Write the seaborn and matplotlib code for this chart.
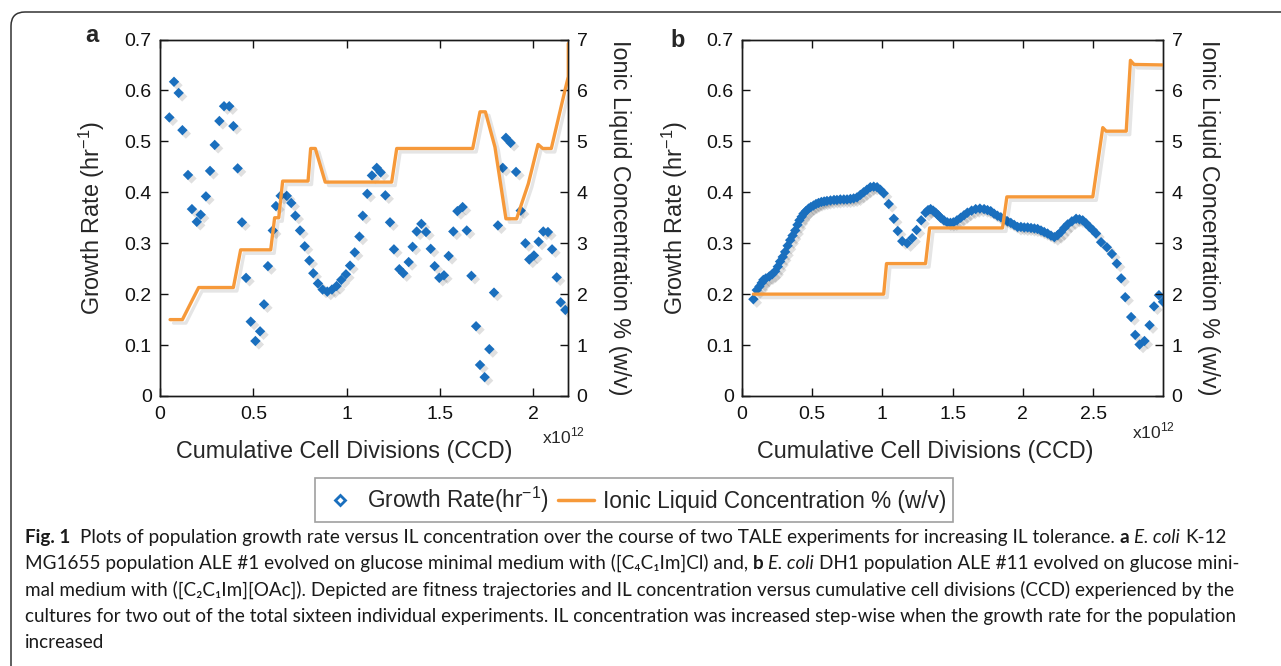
import matplotlib
matplotlib.use("Agg")
import matplotlib.pyplot as plt
import matplotlib.patheffects as pe
import seaborn as sns
from matplotlib.lines import Line2D
from matplotlib.patches import FancyBboxPatch
from matplotlib.transforms import IdentityTransform

# panel a: E. coli K-12 MG1655, ALE #1
a_ccd = [0.05, 0.075, 0.10, 0.12, 0.15, 0.171, 0.197, 0.218, 0.246, 0.268,
         0.293, 0.318, 0.343, 0.371, 0.393, 0.416, 0.439, 0.461, 0.486, 0.511,
         0.536, 0.557, 0.578, 0.604, 0.621, 0.646, 0.679, 0.703, 0.725, 0.75,
         0.775, 0.80, 0.821, 0.846, 0.871, 0.896, 0.921, 0.946, 0.971, 0.996,
         1.018, 1.043, 1.068, 1.086, 1.11, 1.135, 1.161, 1.182, 1.207, 1.232,
         1.253, 1.282, 1.303, 1.332, 1.353, 1.375, 1.40, 1.425, 1.45, 1.471,
         1.496, 1.521, 1.546, 1.571, 1.593, 1.621, 1.643, 1.668, 1.693, 1.714,
         1.739, 1.764, 1.789, 1.81, 1.836, 1.853, 1.878, 1.907, 1.932, 1.957,
         1.978, 2.003, 2.028, 2.053, 2.078, 2.10, 2.125, 2.146, 2.171]
a_growth = [0.547, 0.617, 0.595, 0.522, 0.434, 0.367, 0.342, 0.356, 0.392, 0.442,
            0.493, 0.54, 0.569, 0.569, 0.530, 0.447, 0.341, 0.232, 0.146, 0.108,
            0.127, 0.180, 0.255, 0.325, 0.373, 0.393, 0.393, 0.379, 0.354, 0.325,
            0.294, 0.266, 0.241, 0.221, 0.209, 0.205, 0.209, 0.216, 0.228, 0.239,
            0.256, 0.282, 0.313, 0.354, 0.397, 0.433, 0.448, 0.439, 0.394, 0.341,
            0.288, 0.249, 0.241, 0.263, 0.293, 0.323, 0.338, 0.322, 0.289, 0.255,
            0.232, 0.237, 0.275, 0.323, 0.363, 0.371, 0.325, 0.236, 0.137, 0.061,
            0.037, 0.092, 0.203, 0.335, 0.448, 0.507, 0.497, 0.440, 0.364, 0.30,
            0.268, 0.276, 0.303, 0.323, 0.322, 0.288, 0.233, 0.184, 0.169]
a_il_ccd = [0.054, 0.12, 0.207, 0.393, 0.432, 0.593, 0.614, 0.636, 0.657, 0.793,
            0.807, 0.832, 0.885, 1.241, 1.268, 1.675, 1.714, 1.743, 1.794, 1.853,
            1.91, 1.973, 2.025, 2.05, 2.096, 2.169, 2.187, 2.187]
a_il = [1.5, 1.5, 2.13, 2.13, 2.87, 2.87, 3.5, 3.5, 4.22, 4.22,
        4.86, 4.86, 4.2, 4.2, 4.86, 4.86, 5.58, 5.58, 4.89, 3.48,
        3.48, 4.17, 4.94, 4.86, 4.86, 6.0, 6.27, 6.92]

# panel b: E. coli DH1, ALE #11
b_ccd = [0.081, 0.105, 0.124, 0.14, 0.152, 0.17, 0.195, 0.215, 0.236, 0.255,
         0.271, 0.29, 0.307, 0.325, 0.343, 0.36, 0.379, 0.395, 0.409, 0.425,
         0.438, 0.455, 0.474, 0.49, 0.509, 0.527, 0.545, 0.565, 0.585, 0.605,
         0.63, 0.655, 0.676, 0.70, 0.725, 0.748, 0.772, 0.795, 0.819, 0.843,
         0.866, 0.89, 0.914, 0.938, 0.962, 0.985, 1.009, 1.045, 1.081, 1.109,
         1.141, 1.176, 1.212, 1.243, 1.276, 1.307, 1.325, 1.343, 1.361, 1.379,
         1.397, 1.414, 1.438, 1.462, 1.484, 1.505, 1.531, 1.557, 1.581, 1.605,
         1.635, 1.664, 1.694, 1.724, 1.748, 1.771, 1.795, 1.819, 1.843, 1.867,
         1.89, 1.914, 1.938, 1.962, 1.986, 2.01, 2.034, 2.058, 2.082, 2.105,
         2.129, 2.152, 2.176, 2.2, 2.224, 2.248, 2.271, 2.295, 2.319, 2.349,
         2.379, 2.403, 2.426, 2.45, 2.474, 2.497, 2.521, 2.557, 2.598, 2.634,
         2.669, 2.70, 2.729, 2.771, 2.80, 2.831, 2.866, 2.902, 2.934, 2.969,
         2.998]
b_growth = [0.190, 0.208, 0.215, 0.222, 0.228, 0.231, 0.235, 0.239, 0.245, 0.254,
            0.264, 0.273, 0.283, 0.295, 0.306, 0.315, 0.325, 0.336, 0.345, 0.352,
            0.358, 0.363, 0.368, 0.371, 0.374, 0.377, 0.379, 0.381, 0.382, 0.383,
            0.384, 0.385, 0.385, 0.386, 0.386, 0.386, 0.387, 0.388, 0.390, 0.395,
            0.400, 0.405, 0.410, 0.411, 0.410, 0.405, 0.398, 0.377, 0.348, 0.324,
            0.304, 0.300, 0.310, 0.326, 0.345, 0.360, 0.365, 0.367, 0.364, 0.360,
            0.355, 0.350, 0.345, 0.341, 0.340, 0.341, 0.345, 0.350, 0.355, 0.360,
            0.364, 0.367, 0.368, 0.367, 0.365, 0.363, 0.358, 0.354, 0.351, 0.347,
            0.343, 0.340, 0.336, 0.332, 0.332, 0.331, 0.331, 0.330, 0.329, 0.328,
            0.325, 0.322, 0.319, 0.315, 0.312, 0.316, 0.322, 0.330, 0.337, 0.343,
            0.348, 0.347, 0.345, 0.339, 0.332, 0.326, 0.319, 0.302, 0.292, 0.279,
            0.260, 0.231, 0.194, 0.155, 0.120, 0.101, 0.108, 0.139, 0.176, 0.198,
            0.185]
b_il_ccd = [0.081, 1.009, 1.029, 1.307, 1.336, 1.855, 1.886, 2.498, 2.569, 2.593,
            2.736, 2.766, 2.791, 3.0]
b_il = [2.0, 2.0, 2.6, 2.6, 3.3, 3.3, 3.91, 3.91, 5.27, 5.2,
        5.2, 6.59, 6.51, 6.5]

growth_ticks = [0, 0.1, 0.2, 0.3, 0.4, 0.5, 0.6, 0.7]
il_ticks = [0, 1, 2, 3, 4, 5, 6, 7]
a_xticks = [0, 0.5, 1, 1.5, 2]
b_xticks = [0, 0.5, 1, 1.5, 2, 2.5]

BLUE = "#1a6fbe"
ORANGE = "#f6993a"
CAP_FONT = ["Lato", "DejaVu Sans"]

sns.set_style("ticks")
plt.rcParams["font.family"] = ["Liberation Sans", "DejaVu Sans"]
plt.rcParams["axes.edgecolor"] = "#1a1a1a"
plt.rcParams["axes.linewidth"] = 1.0

W, H = 1281, 666
fig = plt.figure(figsize=(W / 100, H / 100), dpi=100)


def add_ax(left, top, right, bottom):
    return fig.add_axes([left / W, 1 - bottom / H, (right - left) / W, (bottom - top) / H])


def panel(ax, ccd, growth, il_ccd, il, xmax, xticks):
    sns.scatterplot(x=ccd, y=growth, ax=ax, marker="D", s=28, color=BLUE,
                    linewidth=0, legend=False, zorder=3)
    ax.collections[0].set_path_effects(
        [pe.SimplePatchShadow(offset=(2.5, -2.5), shadow_rgbFace="k", alpha=0.12), pe.Normal()])
    ax.set_xlim(0, xmax)
    ax.set_ylim(0, 0.7)
    ax.set_xticks(xticks)
    ax.set_xticklabels([f"{v:g}" for v in xticks])
    ax.set_yticks(growth_ticks)
    ax.set_yticklabels([f"{v:g}" for v in growth_ticks])
    ax.tick_params(direction="in", top=True, right=False, length=6, width=1,
                   labelsize=14, colors="#111")
    ax.tick_params(axis="x", pad=7)
    ax.tick_params(axis="y", pad=6)
    ax.set_xlabel("Cumulative Cell Divisions (CCD)", fontsize=16.8)
    ax.set_ylabel(r"Growth Rate (hr$^{\mathregular{-1}}$)", fontsize=16.8)

    ax2 = ax.twinx()
    sns.lineplot(x=il_ccd, y=il, ax=ax2, sort=False, estimator=None,
                 color=ORANGE, lw=2.4)
    ax2.lines[0].set_path_effects(
        [pe.SimpleLineShadow(offset=(2.5, -2.5), alpha=0.1), pe.Normal()])
    ax2.set_ylim(0, 7)
    ax2.set_yticks(il_ticks)
    ax2.tick_params(direction="in", length=6, width=1, labelsize=14, pad=6, colors="#111")
    ax2.set_ylabel("Ionic Liquid Concentration % (w/v)", fontsize=16.8,
                   rotation=270, va="bottom")
    return ax2


ax_a = add_ax(160, 39.5, 568.3, 396)
ax_b = add_ax(742, 39.5, 1163.3, 396)
ax2_a = panel(ax_a, a_ccd, a_growth, a_il_ccd, a_il, 2.187, a_xticks)
ax2_b = panel(ax_b, b_ccd, b_growth, b_il_ccd, b_il, 3.0, b_xticks)

ax_a.xaxis.set_label_coords(0.451, -0.123)
ax_b.xaxis.set_label_coords(0.436, -0.123)
ax_a.yaxis.set_label_coords(-0.130, 0.5)
ax_b.yaxis.set_label_coords(-0.123, 0.5)
ax2_a.yaxis.set_label_coords(1.097, 0.5)
ax2_b.yaxis.set_label_coords(1.080, 0.5)

ax_a.text(1.041, -0.132, r"x10$^{\mathregular{12}}$", transform=ax_a.transAxes, ha="right",
          va="baseline", fontsize=12.5)
ax_b.text(1.028, -0.118, r"x10$^{\mathregular{12}}$", transform=ax_b.transAxes, ha="right",
          va="baseline", fontsize=12.5)

fig.text(85 / W, 1 - 42 / H, "a", fontsize=17, weight="bold", va="baseline")
fig.text(670 / W, 1 - 47 / H, "b", fontsize=17, weight="bold", va="baseline")

handles = [Line2D([], [], marker="D", ls="none", mfc="white", mec=BLUE, mew=2, ms=5.5),
           Line2D([], [], color=ORANGE, lw=2.5)]
leg = fig.legend(handles, [r"Growth Rate(hr$^{\mathregular{-1}}$)", "Ionic Liquid Concentration % (w/v)"],
                 loc="center", bbox_to_anchor=(634 / W, 1 - 500 / H), ncol=2,
                 frameon=True, fancybox=False, edgecolor="#888888", fontsize=16.3,
                 handlelength=1.6, handletextpad=0.4, columnspacing=0.4, borderpad=0.3)
leg.get_frame().set_linewidth(1.2)

# outer frame of the figure box
fig.add_artist(FancyBboxPatch((11, -30), 1320, H - 12 + 30,
                              boxstyle="round,pad=0,rounding_size=14",
                              transform=IdentityTransform(), fill=False,
                              ec="#333333", lw=1.1))

# caption, drawn run by run so bold and italic parts sit inline
caption = [
    [("Fig. 1", "b"), ("", "n"), ("Plots of population growth rate versus IL concentration over the course of two TALE experiments for increasing IL tolerance.", "n"),
     ("a", "b"), ("E. coli", "i"), ("K-12", "n")],
    [("MG1655 population ALE #1 evolved on glucose minimal medium with ([C\u2084C\u2081Im]Cl) and,", "n"),
     ("b", "b"), ("E. coli", "i"), ("DH1 population ALE #11 evolved on glucose mini-", "n")],
    [("mal medium with ([C\u2082C\u2081Im][OAc]). Depicted are fitness trajectories and IL concentration versus cumulative cell divisions (CCD) experienced by the", "n")],
    [("cultures for two out of the total sixteen individual experiments. IL concentration was increased step-wise when the growth rate for the population", "n")],
    [("increased", "n")],
]
cap_size = 13.6
renderer = fig.canvas.get_renderer()
probe = fig.text(0, 0, "n n", family=CAP_FONT, fontsize=cap_size)
w1 = probe.get_window_extent(renderer).width
probe.set_text("nn")
space = w1 - probe.get_window_extent(renderer).width
probe.remove()

for i, line in enumerate(caption):
    x = 25
    y = 543 + i * 26.2
    for txt, style in line:
        if txt == "":
            x += space
            continue
        kw = {"family": CAP_FONT, "fontsize": cap_size, "color": "#1a1a1a"}
        if style == "b":
            kw["weight"] = "bold"
        if style == "i":
            kw["style"] = "italic"
        t = fig.text(x / W, 1 - y / H, txt, ha="left", va="baseline", **kw)
        x += t.get_window_extent(renderer).width + space

fig.savefig("out.png", dpi=100)
